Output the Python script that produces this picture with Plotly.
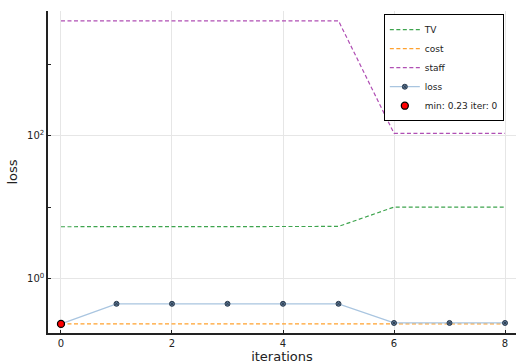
import plotly.graph_objects as go

# Per-iteration values of each tracked quantity
iterations = [0, 1, 2, 3, 4, 5, 6, 7, 8]
tv = [5.3, 5.3, 5.3, 5.3, 5.3, 5.35, 10.0, 10.0, 10.0]
cost = [0.23, 0.23, 0.23, 0.23, 0.23, 0.23, 0.23, 0.23, 0.23]
staff = [4100, 4100, 4100, 4100, 4100, 4100, 108, 108, 108]
loss = [0.23, 0.44, 0.44, 0.44, 0.44, 0.44, 0.237, 0.237, 0.237]

min_iter = 0
min_loss = 0.23

x_ticks = [0, 2, 4, 6, 8]
y_ticks = [1, 100]
y_ticktext = ["10<sup>0</sup>", "10<sup>2</sup>"]
y_minor = [10, 1000]

FONT = "DejaVu Sans"
DASH = "4px,2.5px"

fig = go.Figure()
fig.add_trace(go.Scatter(x=iterations, y=tv, mode="lines", name="TV",
                         line=dict(color="#3ea44e", width=1.2, dash=DASH)))
fig.add_trace(go.Scatter(x=iterations, y=cost, mode="lines", name="cost",
                         line=dict(color="#ffa12e", width=1.2, dash=DASH)))
fig.add_trace(go.Scatter(x=iterations, y=staff, mode="lines", name="staff",
                         line=dict(color="#b04fb4", width=1.2, dash=DASH)))
fig.add_trace(go.Scatter(x=iterations, y=loss, mode="lines+markers", name="loss",
                         line=dict(color="#a9c5e0", width=1.3),
                         marker=dict(symbol="circle-x", size=5, color="#5b7896",
                                     line=dict(color="#2f3f52", width=1))))
fig.add_trace(go.Scatter(x=[min_iter], y=[min_loss], mode="markers",
                         name=f"min: {min_loss} iter: {min_iter}",
                         marker=dict(symbol="circle", size=7, color="#ff0000",
                                     line=dict(color="#000000", width=1.3))))

fig.update_layout(
    width=516, height=364,
    margin=dict(l=48, r=0, t=11, b=31),
    plot_bgcolor="white", paper_bgcolor="white",
    font=dict(family=FONT, size=10, color="#222222"),
    showlegend=True,
    legend=dict(x=0.974, y=0.99, xanchor="right", yanchor="top",
                bgcolor="white", bordercolor="#000000", borderwidth=1,
                font=dict(family=FONT, size=9, color="#222222")),
)
fig.update_xaxes(
    range=[-0.234, 8.198], tickvals=x_ticks,
    showgrid=True, gridcolor="#e6e6e6", gridwidth=1, zeroline=False,
    showline=True, linecolor="#222222", linewidth=1.5,
    ticks="inside", ticklen=3, tickcolor="#222222",
    tickfont=dict(family=FONT, size=10),
    title=dict(text="iterations", font=dict(family=FONT, size=13), standoff=3),
)
fig.update_yaxes(
    type="log", range=[-0.766, 3.75],
    tickvals=y_ticks, ticktext=y_ticktext,
    showgrid=True, gridcolor="#e6e6e6", gridwidth=1, zeroline=False,
    showline=True, linecolor="#222222", linewidth=1.5,
    ticks="inside", ticklen=3, tickcolor="#222222",
    tickfont=dict(family=FONT, size=10),
    minor=dict(tickmode="array", tickvals=y_minor, ticks="inside", ticklen=3,
               tickcolor="#222222", showgrid=False),
    title=dict(text="loss", font=dict(family=FONT, size=13), standoff=6),
)

fig.write_html("out.html")
